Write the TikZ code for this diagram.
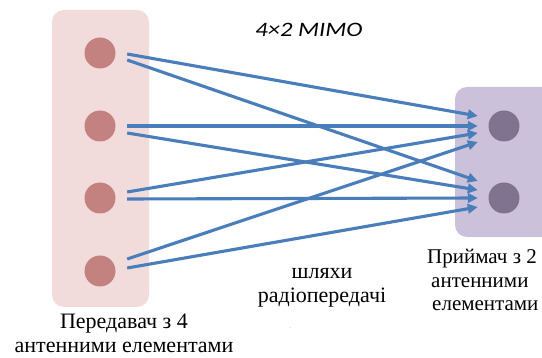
\documentclass[tikz,border=0pt]{standalone}
\usepackage{fontspec}
\setmainfont{Liberation Serif}
\newfontfamily\captionfont{Liberation Serif}
\newfontfamily\titlefont{Carlito}
\usetikzlibrary{arrows.meta}
\definecolor{txbox}{HTML}{F2DCDB}
\definecolor{txant}{HTML}{C3827F}
\definecolor{rxbox}{HTML}{CCC1DA}
\definecolor{rxant}{HTML}{807390}
\definecolor{pathblue}{HTML}{4A7EBB}
\tikzset{
  antenna/.style={circle, minimum size=31pt, inner sep=0pt},
  txantenna/.style={antenna, fill=txant},
  rxantenna/.style={antenna, fill=rxant},
  panel/.style={rounded corners=12pt},
  radiopath/.style={draw=pathblue, line width=3.1pt,
    -{Triangle[length=10pt, width=9.5pt]}},
  captiontext/.style={inner sep=0pt, font=\captionfont\fontsize{22pt}{24pt}\selectfont},
}
\begin{document}
\begin{tikzpicture}[x=1pt, y=-1pt]
  \clip (0,0) rectangle (542,358);
  \fill[white] (0,0) rectangle (542,358);

  % transmitter and receiver panels
  \fill[panel, txbox] (52,10) rectangle (149,307);
  \fill[panel, rxbox] (455,87) rectangle (570,237);

  % antenna elements
  \node[txantenna] (t1) at (100,53) {};
  \node[txantenna] (t2) at (100,126) {};
  \node[txantenna] (t3) at (100,198) {};
  \node[txantenna] (t4) at (100,271) {};
  \node[rxantenna] (r1) at (504,126) {};
  \node[rxantenna] (r2) at (504,198) {};

  % radio paths
  \draw[radiopath] ([shift={(11.5,1)}]t1.east)   -- ([shift={(-10.5,-10)}]r1.west);
  \draw[radiopath] ([shift={(11.5,7)}]t1.east)   -- ([shift={(-10.5,-17)}]r2.west);
  \draw[radiopath] ([shift={(11.5,0)}]t2.east)   -- ([shift={(-10.5,0)}]r1.west);
  \draw[radiopath] ([shift={(11.5,7)}]t2.east)   -- ([shift={(-10.5,-8)}]r2.west);
  \draw[radiopath] ([shift={(11.5,-6)}]t3.east)  -- ([shift={(-10.5,7)}]r1.west);
  \draw[radiopath] ([shift={(11.5,1)}]t3.east)   -- ([shift={(-10.5,0)}]r2.west);
  \draw[radiopath] ([shift={(11.5,-12)}]t4.east) -- ([shift={(-10.5,16)}]r1.west);
  \draw[radiopath] ([shift={(11.5,-3)}]t4.east)  -- ([shift={(-10.5,9)}]r2.west);

  % captions (base anchor sits on the last line)
  \node[inner sep=0pt, font=\fontsize{20.5pt}{24pt}\titlefont\itshape, anchor=base] (title) at (309,37) {\scalebox{1.2}[1]{4×2 MIMO}};
  \node[captiontext, align=center, anchor=base] (txlabel) at (124,353) {Передавач з 4\\антенними елементами};
  \node[captiontext, align=center, anchor=base] (pathlabel) at (322,303) {шляхи\\радіопередачі};
  \node[captiontext, font=\captionfont\fontsize{21pt}{23.5pt}\selectfont, align=left, anchor=base west] (rxlabel) at (427,311) {Приймач з 2\\\hspace{4pt}антенними\\\hspace{5pt}елементами};
  \node[inner sep=0pt, text=gray!60, font=\fontsize{8pt}{8pt}\selectfont] (dot) at (290,328) {.};
\end{tikzpicture}
\end{document}
